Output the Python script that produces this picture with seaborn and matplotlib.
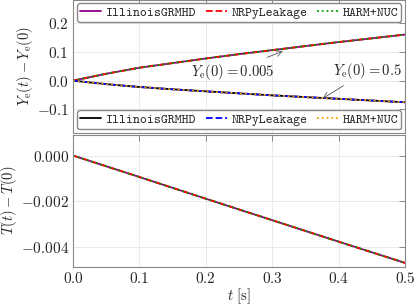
import matplotlib
matplotlib.use("Agg")
import matplotlib.pyplot as plt
import seaborn as sns
import pandas as pd

# time samples [s]
t = [0.0, 0.05, 0.1, 0.15, 0.2, 0.25, 0.3, 0.35, 0.4, 0.45, 0.5]
# Ye(t) - Ye(0)
ye_low = [0.0, 0.024, 0.045, 0.061, 0.077, 0.092, 0.106, 0.120, 0.134, 0.147, 0.160]   # Ye(0)=0.005
ye_high = [0.0, -0.012, -0.022, -0.030, -0.037, -0.044, -0.051, -0.057, -0.063, -0.069, -0.075]  # Ye(0)=0.5
# T(t) - T(0)
t_T = [0.0, 0.1, 0.2, 0.3, 0.4, 0.5]
dT = [0.0, -0.00094, -0.00189, -0.00283, -0.00377, -0.0047]

codes = ["IllinoisGRMHD", "NRPyLeakage", "HARM+NUC"]
styles = ["-", "--", ":"]
colors_low = ["#8b008b", "#ff0000", "#00a000"]
colors_high = ["#000000", "#0000ff", "#ffa500"]

sns.set_style("whitegrid")
plt.rcParams["font.family"] = "serif"
plt.rcParams["font.serif"] = ["cmr10", "DejaVu Serif"]
plt.rcParams["mathtext.fontset"] = "cm"
plt.rcParams["axes.formatter.use_mathtext"] = True
plt.rcParams["axes.unicode_minus"] = True

fig, (ax1, ax2) = plt.subplots(2, 1, figsize=(4.15, 3.08), dpi=100, sharex=True)
fig.subplots_adjust(left=0.176, right=0.976, top=1.0, bottom=0.133, hspace=0.015)

df_low = pd.DataFrame({"t": t, "y": ye_low})
df_high = pd.DataFrame({"t": t, "y": ye_high})
df_T = pd.DataFrame({"t": t_T, "y": dT})

h_low, h_high = [], []
for code, ls, c in zip(codes, styles, colors_low):
    sns.lineplot(data=df_low, x="t", y="y", ax=ax1, color=c, linestyle=ls, lw=1.3, label=None)
    h_low.append(ax1.lines[-1])
    h_low[-1].set_label(code)
for code, ls, c in zip(codes, styles, colors_high):
    sns.lineplot(data=df_high, x="t", y="y", ax=ax1, color=c, linestyle=ls, lw=1.3, label=None)
    h_high.append(ax1.lines[-1])
    h_high[-1].set_label(code)
for code, ls, c in zip(codes, styles, colors_low):
    sns.lineplot(data=df_T, x="t", y="y", ax=ax2, color=c, linestyle=ls, lw=1.3, label=None)

legprop = {"family": "cmtt10", "size": 9.5}
legkw = dict(ncol=3, prop=legprop, handlelength=1.6, columnspacing=0.7, handletextpad=0.35,
             borderpad=0.25, borderaxespad=0.25, framealpha=1, edgecolor="#888888")
leg1 = ax1.legend(handles=h_low, loc="upper center", **legkw)
ax1.add_artist(leg1)
ax1.legend(handles=h_high, loc="lower center", **legkw)

ax1.annotate(r"$Y_{\rm e}(0) = 0.005$", xy=(0.316, 0.103), xytext=(0.24, 0.031),
             ha="center", va="center", fontsize=10.5,
             arrowprops=dict(arrowstyle="->", color="#555555", lw=0.6, shrinkA=2, shrinkB=0))
ax1.annotate(r"$Y_{\rm e}(0) = 0.5$", xy=(0.376, -0.062), xytext=(0.443, 0.034),
             ha="center", va="center", fontsize=10.5,
             arrowprops=dict(arrowstyle="->", color="#555555", lw=0.6, shrinkA=2, shrinkB=0))

ax1.set_xlim(0, 0.5)
ax1.set_ylim(-0.18, 0.28)
ax1.set_yticks([-0.1, 0.0, 0.1, 0.2])
ax2.set_ylim(-0.00488, 0.00092)
ax2.set_yticks([-0.004, -0.002, 0.0])
ax2.set_yticklabels([r"$-0.004$", r"$-0.002$", r"$0.000$"])
ax1.set_yticklabels([r"$-0.1$", r"$0.0$", r"$0.1$", r"$0.2$"])
ax2.set_xticks([0.0, 0.1, 0.2, 0.3, 0.4, 0.5])
ax2.set_xticklabels([r"$0.0$", r"$0.1$", r"$0.2$", r"$0.3$", r"$0.4$", r"$0.5$"])

ax1.set_xlabel("")
ax1.set_ylabel(r"$Y_{\rm e}(t) - Y_{\rm e}(0)$", fontsize=10.5, labelpad=1)
ax2.set_ylabel(r"$T(t) - T(0)$", fontsize=10.5, labelpad=1)
ax2.set_xlabel(r"$t\ [\mathrm{s}]$", fontsize=10.5, labelpad=0)

for ax in (ax1, ax2):
    ax.grid(True, color="#e6e6e6", lw=0.6)
    ax.tick_params(direction="in", top=True, right=True, length=4, width=0.6,
                   color="#777777", labelsize=11, pad=3)
    for s in ax.spines.values():
        s.set_color("#888888")
        s.set_linewidth(0.8)

fig.savefig("out.png", dpi=100)
